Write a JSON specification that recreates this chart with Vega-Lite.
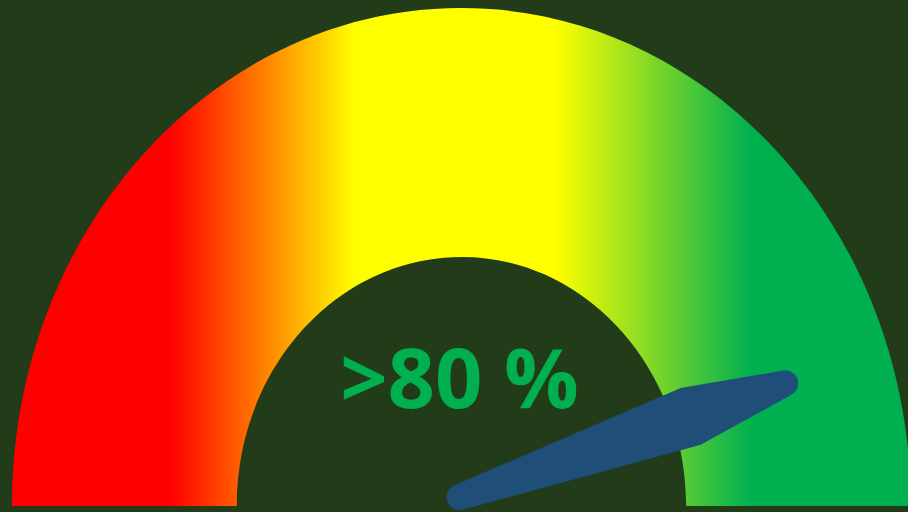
{
  "$schema": "https://vega.github.io/schema/vega-lite/v6.json",
  "width": 908,
  "height": 512,
  "autosize": {"type": "none"},
  "padding": 0,
  "background": "#223b18",
  "config": {"view": {"stroke": null}},
  "data": {"values": [{"value": 89.3, "label": ">80 %"}]},
  "encoding": {
    "x": {
      "datum": 0,
      "type": "quantitative",
      "scale": {"domain": [-1.0267, 0.99333], "nice": false, "zero": false},
      "axis": null
    },
    "y": {
      "datum": 0,
      "type": "quantitative",
      "scale": {"domain": [-0.012048, 1.016064], "nice": false, "zero": false},
      "axis": null
    }
  },
  "layer": [
    {
      "mark": {
        "type": "point",
        "shape": "M-1,0A1,1.1079,0,0,1,1,0L0.5,0A0.5,0.554,0,0,0,-0.5,0Z",
        "size": 808201,
        "filled": true,
        "opacity": 1,
        "strokeWidth": 0,
        "fill": {
          "gradient": "linear",
          "x1": 0, "y1": 0, "x2": 1, "y2": 0,
          "stops": [
            {"offset": 0.176, "color": "#ff0000"},
            {"offset": 0.382, "color": "#ffff00"},
            {"offset": 0.604, "color": "#ffff00"},
            {"offset": 0.821, "color": "#00b050"}
          ]
        }
      }
    },
    {
      "mark": {
        "type": "text",
        "font": "Open Sans",
        "fontWeight": "bold",
        "fontSize": 83,
        "color": "#00b050",
        "align": "center",
        "baseline": "alphabetic",
        "dx": -2
      },
      "encoding": {
        "y": {"datum": 0.1958, "type": "quantitative"},
        "text": {"field": "label"}
      }
    },
    {
      "mark": {
        "type": "point",
        "shape": "M1,-9L245,-26L346,-9L245,8Z",
        "size": 4,
        "filled": true,
        "opacity": 1,
        "fill": "#1f4e79",
        "stroke": "#1f4e79",
        "strokeWidth": 26,
        "strokeJoin": "round"
      },
      "encoding": {
        "angle": {
          "field": "value",
          "type": "quantitative",
          "scale": {"domain": [0, 100], "range": [-180, 0]},
          "legend": null
        }
      }
    }
  ]
}
